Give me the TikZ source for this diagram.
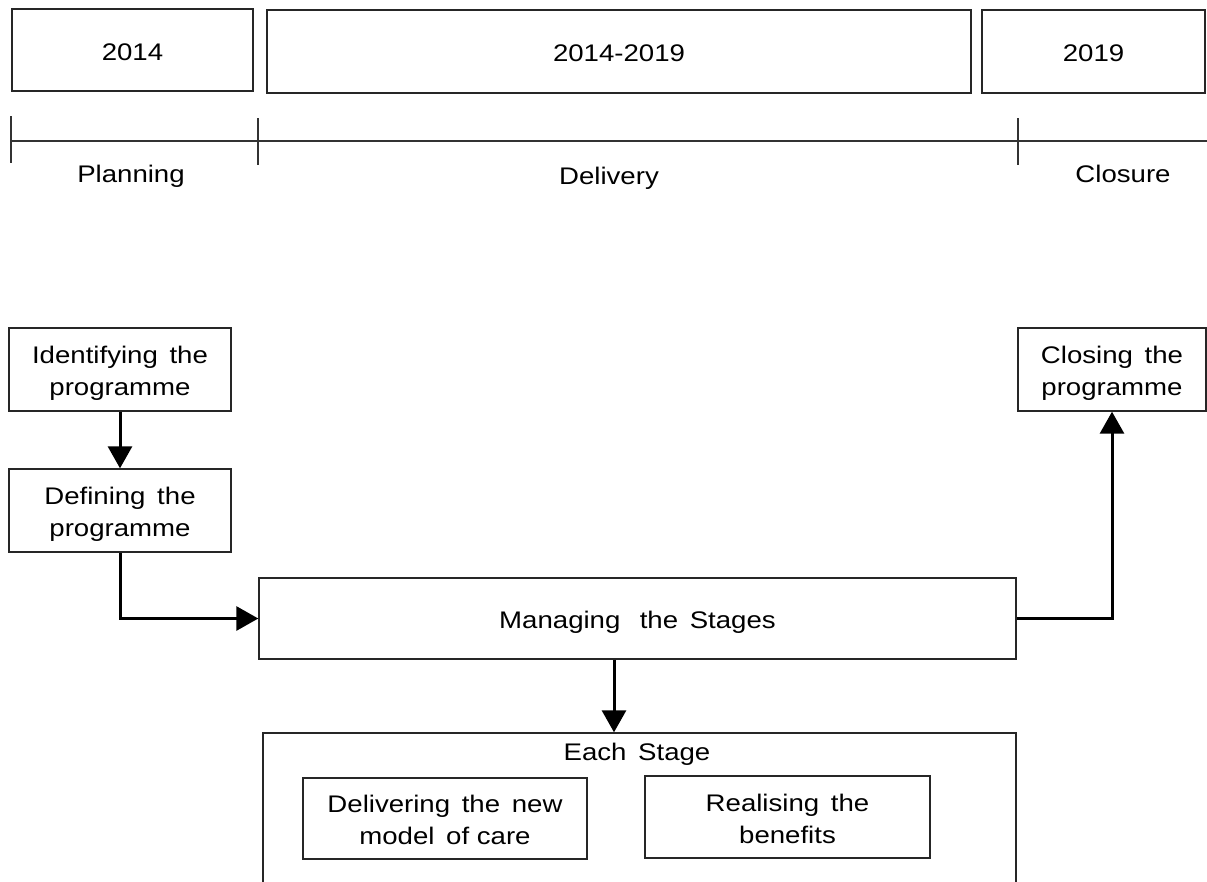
\documentclass[tikz,border=0pt]{standalone}
\usepackage{fontspec}
\setmainfont{Liberation Sans}[FakeStretch=1.15]
\usetikzlibrary{arrows.meta}
\newcommand\boxtext[1]{\raisebox{-4pt}[\height][\depth]{\begin{tabular}{@{}c@{}}#1\end{tabular}}}
\begin{document}
\begin{tikzpicture}[x=1pt,y=-1pt,
  every node/.style={font=\fontsize{24}{32}\selectfont},
  box/.style={draw=black!85, line width=1.4pt, inner sep=0pt, align=center},
  tline/.style={draw=black!80, line width=1.4pt},
  flow/.style={draw=black, line width=3pt, -{Triangle[width=24pt,length=22pt]}},
  lbl/.style={anchor=base, inner sep=0pt}]
\useasboundingbox (0,0) rectangle (1207,881);
\clip (0,0) rectangle (1207,881);
% top boxes
\node[box, minimum width=241pt, minimum height=82pt] (y1) at (132.5,50) {\boxtext{2014}};
\node[box, minimum width=704pt, minimum height=83pt] (y2) at (619,51.5) {\boxtext{2014-2019}};
\node[box, minimum width=223pt, minimum height=83pt] (y3) at (1093.5,51.5) {\boxtext{2019}};
% timeline
\coordinate (tl) at (10,141);
\coordinate (tr) at (1207,141);
\draw[tline] (tl) -- (tr);
\coordinate (t1a) at (11,116); \coordinate (t1b) at (11,163);
\coordinate (t2a) at (258,118); \coordinate (t2b) at (258,165);
\coordinate (t3a) at (1018,118); \coordinate (t3b) at (1018,165);
\draw[tline] (t1a) -- (t1b);
\draw[tline] (t2a) -- (t2b);
\draw[tline] (t3a) -- (t3b);
\node[lbl] (plan) at (131,182) {Planning};
\node[lbl] (deliv) at (609,184) {Delivery};
\node[lbl] (clos) at (1123,182) {Closure};
% flow
\node[box, minimum width=222pt, minimum height=83pt] (ident) at (120,369.5) {\boxtext{Identifying\, the\\programme}};
\node[box, minimum width=222pt, minimum height=83pt] (defin) at (120,510.5) {\boxtext{Defining\, the\\programme}};
\node[box, minimum width=188pt, minimum height=83pt] (closing) at (1112,369.5) {\boxtext{Closing\, the\\programme}};
\node[box, minimum width=757pt, minimum height=81pt] (manage) at (637.5,618.5) {\boxtext{Managing\, \ the\, Stages}};
\node[box, minimum width=753pt, minimum height=172pt] (stage) at (639.5,819) {};
\node[lbl] (stagetitle) at (637,760) {Each\, Stage};
\node[box, minimum width=284pt, minimum height=81pt] (delnew) at (445,818.5) {\boxtext{Delivering\, the\, new\\model\, of care}};
\node[box, minimum width=285pt, minimum height=82pt] (realise) at (787.5,817) {\boxtext{Realising\, the\\benefits}};
% connectors
\draw[flow] (ident) -- (defin);
\draw[flow] (defin.south) |- (manage.west);
\draw[flow] (manage.east) -| (closing.south);
\coordinate (mx) at (614,0);
\draw[flow] (manage.south -| mx) -- (stage.north -| mx);
\end{tikzpicture}
\end{document}
